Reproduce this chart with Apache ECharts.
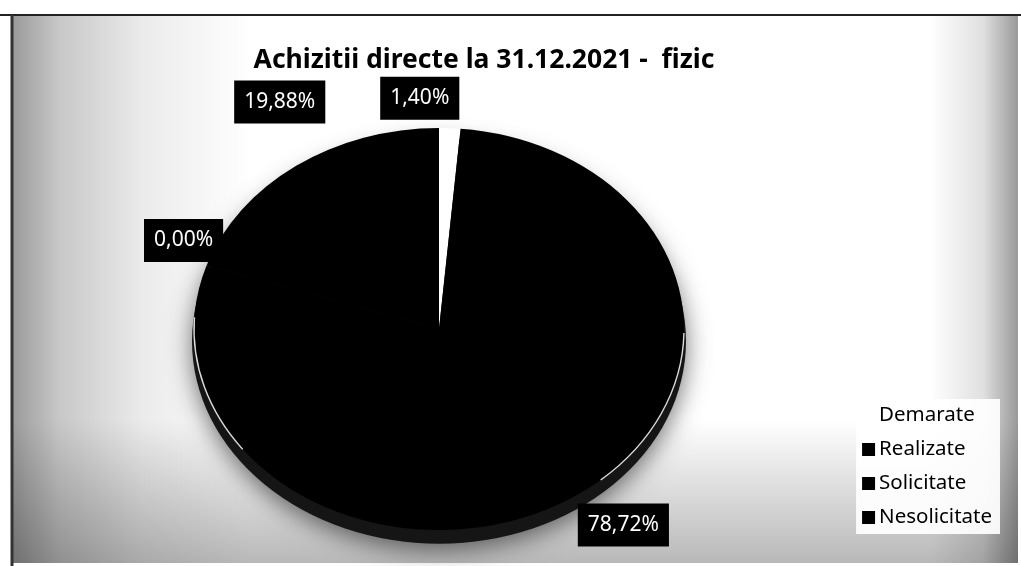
<!DOCTYPE html>
<html>
<head>
<meta charset="utf-8">
<script src="https://cdn.jsdelivr.net/npm/echarts@6/dist/echarts.min.js"></script>
<style>
  html, body { margin: 0; padding: 0; background: #ffffff; }
  #chart { width: 1021px; height: 566px; }
</style>
</head>
<body>
<div id="chart"></div>
<script>
// ---- chart content ----
const titleText = 'Achizitii directe la 31.12.2021 -  fizic';
const categories = ['Demarate', 'Realizate', 'Solicitate', 'Nesolicitate'];
const shares = [1.40, 78.72, 0.00, 19.88];          // percent of total
const sliceColors = ['#ffffff', '#000000', '#000000', '#000000'];

// ---- layout / styling ----
// tilted (elliptical) pie face
const PIE = { cx: 439, cy: 329, rx: 245, ry: 201 };
// label offset from each slice's rim point, px
const labelNudge = [[-30, -30], [50, 28], [-23, -25], [-16, -64]];
const FONT = '"Noto Sans", "Open Sans", sans-serif';

const total = shares.reduce((s, v) => s + v, 0);
const startFrac = [];
let acc = 0;
shares.forEach(v => { startFrac.push(acc / total); acc += v; });

function fmtPct(v) { return v.toFixed(2).replace('.', ',') + '%'; }

// one slice of the elliptical pie plus its boxed value label
function sliceRenderer(i) {
  return function (params, api) {
    const v = api.value(0);
    const a0 = startFrac[i] * 2 * Math.PI;
    const a1 = a0 + (v / total) * 2 * Math.PI;
    const mid = (a0 + a1) / 2;
    const rimX = PIE.cx + PIE.rx * Math.sin(mid);
    const rimY = PIE.cy - PIE.ry * Math.cos(mid);
    const children = [];
    if (a1 > a0) {
      children.push({
        type: 'sector',
        x: PIE.cx, y: PIE.cy,
        scaleY: PIE.ry / PIE.rx,
        shape: { cx: 0, cy: 0, r: PIE.rx, r0: 0,
                 startAngle: a0 - Math.PI / 2, endAngle: a1 - Math.PI / 2, clockwise: true },
        style: { fill: api.visual('color') }
      });
    }
    children.push({
      type: 'text',
      x: rimX + labelNudge[i][0],
      y: rimY + labelNudge[i][1],
      z2: 20,
      style: {
        text: fmtPct(v),
        fill: '#ffffff',
        font: 'normal 21px ' + FONT,
        align: 'center',
        verticalAlign: 'middle',
        backgroundColor: '#000000',
        padding: [11, 10, 11, 10]
      }
    });
    return { type: 'group', children: children };
  };
}

// side wall, drop shadow and rim highlight of the tilted pie
function baseRenderer(params, api) {
  const sy = PIE.ry / PIE.rx;
  return {
    type: 'group',
    children: [
      {
        type: 'circle', x: PIE.cx, y: PIE.cy + 12, scaleY: sy,
        shape: { cx: 0, cy: 0, r: PIE.rx + 2 },
        style: { fill: '#151515', shadowBlur: 24, shadowOffsetY: 6, shadowColor: 'rgba(0,0,0,0.55)' }
      },
      {
        type: 'arc', x: PIE.cx, y: PIE.cy, scaleY: sy, z2: 5,
        shape: { cx: 0, cy: 0, r: PIE.rx, startAngle: 0.02, endAngle: 0.85, clockwise: true },
        style: { stroke: 'rgba(255,255,255,0.85)', lineWidth: 1.4, fill: null }
      },
      {
        type: 'arc', x: PIE.cx, y: PIE.cy, scaleY: sy, z2: 5,
        shape: { cx: 0, cy: 0, r: PIE.rx, startAngle: 2.5, endAngle: 3.2, clockwise: true },
        style: { stroke: 'rgba(255,255,255,0.85)', lineWidth: 1.4, fill: null }
      }
    ]
  };
}

const series = [{
  type: 'custom',
  coordinateSystem: 'none',
  silent: true,
  data: [[0]],
  renderItem: baseRenderer
}];
categories.forEach((name, i) => {
  series.push({
    name: name,
    type: 'custom',
    coordinateSystem: 'none',
    itemStyle: { color: sliceColors[i] },
    data: [[shares[i]]],
    renderItem: sliceRenderer(i)
  });
});

const chart = echarts.init(document.getElementById('chart'), null, { renderer: 'canvas' });
chart.setOption({
  animation: false,
  backgroundColor: '#ffffff',
  title: {
    text: titleText,
    left: 479,
    top: 42,
    textAlign: 'center',
    textStyle: { fontFamily: FONT, fontWeight: 'bold', fontSize: 26.5, color: '#000000' }
  },
  legend: {
    data: categories,
    orient: 'vertical',
    right: 21,
    top: 399,
    icon: 'rect',
    itemWidth: 13,
    itemHeight: 13,
    itemGap: 13,
    backgroundColor: 'rgba(255,255,255,0.92)',
    padding: [6, 8, 6, 6],
    textStyle: { fontFamily: FONT, fontSize: 20.5, color: '#000000', padding: [0, 0, 0, -1] }
  },
  graphic: [
    // frame panel with darker scanned edges
    { type: 'rect', silent: true, z: -20, shape: { x: 11, y: 15, width: 1007, height: 548 },
      style: { fill: '#ffffff' } },
    { type: 'rect', silent: true, z: -19, shape: { x: 11, y: 15, width: 240, height: 548 },
      style: { fill: { type: 'linear', x: 0, y: 0, x2: 1, y2: 0, colorStops: [
        { offset: 0, color: 'rgba(0,0,0,0.40)' }, { offset: 0.2, color: 'rgba(0,0,0,0.22)' },
        { offset: 0.55, color: 'rgba(0,0,0,0.08)' }, { offset: 1, color: 'rgba(0,0,0,0)' }] } } },
    { type: 'rect', silent: true, z: -19, shape: { x: 11, y: 420, width: 1007, height: 143 },
      style: { fill: { type: 'linear', x: 0, y: 0, x2: 0, y2: 1, colorStops: [
        { offset: 0, color: 'rgba(0,0,0,0)' }, { offset: 1, color: 'rgba(0,0,0,0.28)' }] } } },
    { type: 'rect', silent: true, z: -19, shape: { x: 930, y: 15, width: 88, height: 548 },
      style: { fill: { type: 'linear', x: 0, y: 0, x2: 1, y2: 0, colorStops: [
        { offset: 0, color: 'rgba(0,0,0,0)' }, { offset: 0.6, color: 'rgba(0,0,0,0.12)' },
        { offset: 1, color: 'rgba(0,0,0,0.40)' }] } } },
    { type: 'line', silent: true, z: -18, shape: { x1: 0, y1: 15, x2: 1021, y2: 15 },
      style: { stroke: '#222222', lineWidth: 2 } },
    { type: 'line', silent: true, z: -18, shape: { x1: 12, y1: 15, x2: 12, y2: 566 },
      style: { stroke: '#333333', lineWidth: 3 } }
  ],
  series: series
});
</script>
</body>
</html>
